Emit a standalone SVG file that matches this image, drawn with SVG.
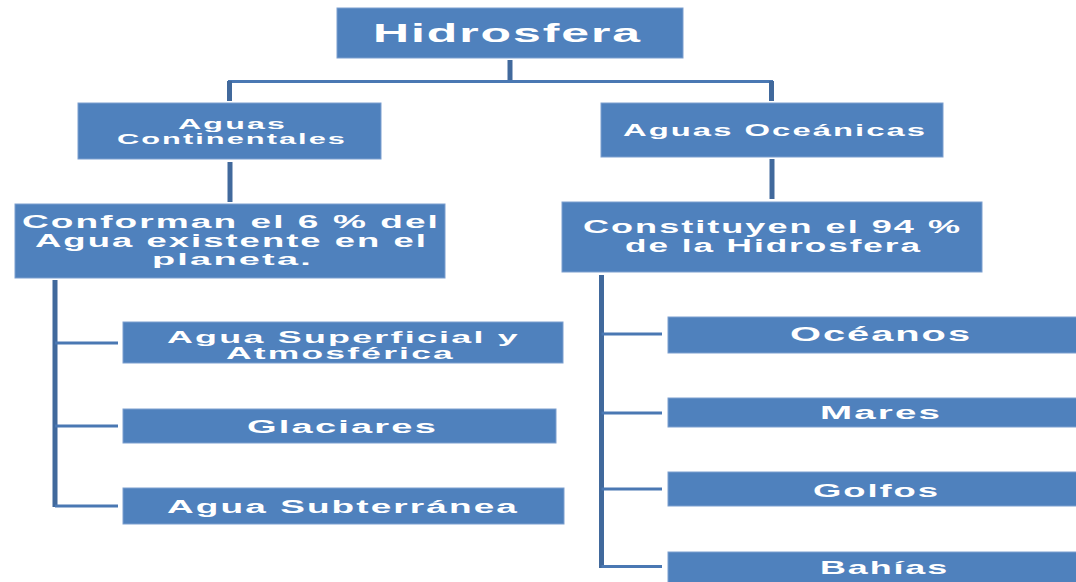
<svg xmlns="http://www.w3.org/2000/svg" width="1076" height="582" viewBox="0 0 1076 582">
<style>
.box{fill:#4f81bd;stroke:#7d9fcf;stroke-width:1}
.t{font-family:"Liberation Sans",Arial,sans-serif;font-weight:bold;fill:#ffffff;text-anchor:start;letter-spacing:1px}
.thick{stroke:#41699c;stroke-width:5;fill:none}
.thin{stroke:#4a78b3;stroke-width:3;fill:none}
</style>
<rect width="1076" height="582" fill="#ffffff"/>
<g id="connectors">
<line class="thick" x1="510" y1="60" x2="510" y2="81"/>
<polyline class="thin" points="229.5,101 229.5,81.5 771.5,81.5 771.5,101"/>
<line class="thick" x1="229.5" y1="81" x2="229.5" y2="101"/>
<line class="thick" x1="771.5" y1="81" x2="771.5" y2="101"/>
<line class="thick" x1="230" y1="162" x2="230" y2="202"/>
<line class="thick" x1="772" y1="159" x2="772" y2="199"/>
<line class="thick" x1="55" y1="280" x2="55" y2="507"/>
<line class="thin" x1="55" y1="343" x2="118" y2="343"/>
<line class="thin" x1="55" y1="426" x2="118" y2="426"/>
<line class="thin" x1="55" y1="506" x2="118" y2="506"/>
<line class="thick" x1="601.5" y1="275" x2="601.5" y2="568"/>
<line class="thin" x1="601.5" y1="334" x2="662" y2="334"/>
<line class="thin" x1="601.5" y1="413" x2="662" y2="413"/>
<line class="thin" x1="601.5" y1="489" x2="662" y2="489"/>
<line class="thin" x1="601.5" y1="566.5" x2="662" y2="566.5"/>
</g>
<g id="hidrosfera">
<rect class="box" x="337" y="8" width="346" height="50"/>
<text class="t" x="373" y="42" font-size="26" textLength="269" lengthAdjust="spacingAndGlyphs">Hidrosfera</text>
</g>
<g id="aguas-continentales">
<rect class="box" x="78" y="103" width="303" height="56"/>
<text class="t" x="178" y="129" font-size="15" textLength="109" lengthAdjust="spacingAndGlyphs">Aguas</text>
<text class="t" x="117" y="144" font-size="15" textLength="230" lengthAdjust="spacingAndGlyphs">Continentales</text>
</g>
<g id="aguas-oceanicas">
<rect class="box" x="601" y="103" width="342" height="54"/>
<text class="t" x="623" y="136" font-size="16" textLength="304" lengthAdjust="spacingAndGlyphs">Aguas Oceánicas</text>
</g>
<g id="conforman">
<rect class="box" x="15" y="204" width="430" height="74"/>
<text class="t" x="22" y="228" font-size="18" textLength="418" lengthAdjust="spacingAndGlyphs">Conforman el 6 % del</text>
<text class="t" x="35" y="247" font-size="18" textLength="393" lengthAdjust="spacingAndGlyphs">Agua existente en el</text>
<text class="t" x="152" y="265" font-size="17" textLength="161" lengthAdjust="spacingAndGlyphs">planeta.</text>
</g>
<g id="constituyen">
<rect class="box" x="562" y="202" width="420" height="70"/>
<text class="t" x="583" y="233" font-size="18" textLength="379" lengthAdjust="spacingAndGlyphs">Constituyen el 94 %</text>
<text class="t" x="625" y="252" font-size="18" textLength="297" lengthAdjust="spacingAndGlyphs">de la Hidrosfera</text>
</g>
<g id="agua-superficial">
<rect class="box" x="123" y="322" width="440" height="41"/>
<text class="t" x="167" y="343" font-size="16" textLength="353" lengthAdjust="spacingAndGlyphs">Agua Superficial y</text>
<text class="t" x="226" y="359" font-size="16" textLength="229" lengthAdjust="spacingAndGlyphs">Atmosférica</text>
</g>
<g id="glaciares">
<rect class="box" x="123" y="409" width="433" height="34"/>
<text class="t" x="247" y="433" font-size="17.5" textLength="191" lengthAdjust="spacingAndGlyphs">Glaciares</text>
</g>
<g id="agua-subterranea">
<rect class="box" x="123" y="488" width="441" height="36"/>
<text class="t" x="167" y="513" font-size="17.5" textLength="352" lengthAdjust="spacingAndGlyphs">Agua Subterránea</text>
</g>
<g id="oceanos">
<rect class="box" x="668" y="317" width="420" height="36"/>
<text class="t" x="790" y="341" font-size="20" textLength="182" lengthAdjust="spacingAndGlyphs">Océanos</text>
</g>
<g id="mares">
<rect class="box" x="668" y="398" width="420" height="29"/>
<text class="t" x="820" y="419" font-size="18" textLength="122" lengthAdjust="spacingAndGlyphs">Mares</text>
</g>
<g id="golfos">
<rect class="box" x="668" y="472" width="420" height="34"/>
<text class="t" x="813" y="497" font-size="19" textLength="127" lengthAdjust="spacingAndGlyphs">Golfos</text>
</g>
<g id="bahias">
<rect class="box" x="668" y="552" width="420" height="40"/>
<text class="t" x="820" y="574" font-size="19" textLength="129" lengthAdjust="spacingAndGlyphs">Bahías</text>
</g>
</svg>
